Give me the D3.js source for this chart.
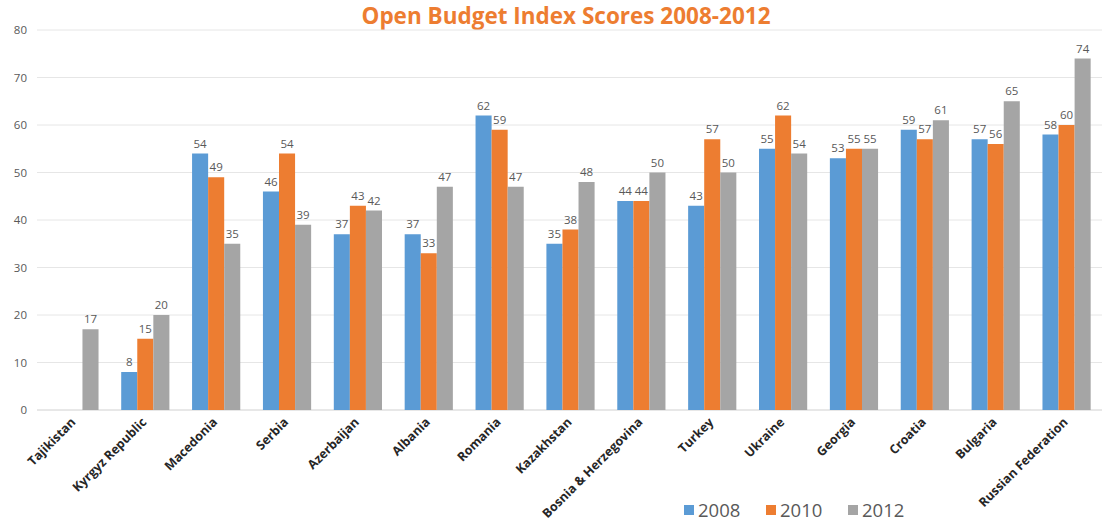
<!DOCTYPE html>
<html>
<head>
<meta charset="utf-8">
<script src="https://cdn.jsdelivr.net/npm/d3@7"></script>
<style>
  body { margin: 0; background: #fff; }
  text { font-family: "Open Sans", "Liberation Sans", sans-serif; }
</style>
</head>
<body>
<svg id="chart" width="1104" height="523"></svg>
<script>
let countries = ['Tajikistan', 'Kyrgyz Republic', 'Macedonia', 'Serbia', 'Azerbaijan', 'Albania',
    'Romania', 'Kazakhstan', 'Bosnia & Herzegovina', 'Turkey', 'Ukraine', 'Georgia',
    'Croatia', 'Bulgaria', 'Russian Federation'];
let years = ['2008', '2010', '2012'];
let scores2008 = [null, 8, 54, 46, 37, 37, 62, 35, 44, 43, 55, 53, 59, 57, 58];
let scores2010 = [null, 15, 49, 54, 43, 33, 59, 38, 44, 57, 62, 55, 57, 56, 60];
let scores2012 = [17, 20, 35, 39, 42, 47, 47, 48, 50, 50, 54, 55, 61, 65, 74];
let yTicks = [0, 10, 20, 30, 40, 50, 60, 70, 80];

let series = [scores2008, scores2010, scores2012];
let colors = ['#5b9bd5', '#ed7d31', '#a5a5a5'];

let svg = d3.select('#chart');

// scales
let xScale = d3.scaleBand()
    .domain(countries)
    .range([39, 1102])
    .paddingInner(0.32)
    .paddingOuter(0.16);
let xInner = d3.scaleBand()
    .domain(years)
    .range([0, xScale.bandwidth()]);
let yScale = d3.scaleLinear()
    .domain([0, 80])
    .range([410, 30]);

// title
svg.append('text')
    .attr('x', 566).attr('y', 24)
    .attr('text-anchor', 'middle')
    .attr('font-size', 22.5)
    .attr('font-weight', 'bold')
    .attr('fill', '#ed7d31')
    .text('Open Budget Index Scores 2008-2012');

// gridlines
svg.append('g')
    .selectAll('line')
    .data(yTicks)
    .enter().append('line')
    .attr('x1', 37).attr('x2', 1102)
    .attr('y1', d => yScale(d)).attr('y2', d => yScale(d))
    .attr('stroke', d => d === 0 ? '#d0d0d0' : '#e6e6e6')
    .attr('stroke-width', 1);

// y axis labels
let yAxis = d3.axisLeft(yScale).tickValues(yTicks).tickSize(0).tickPadding(10);
let yG = svg.append('g')
    .attr('transform', 'translate(37,0)')
    .call(yAxis);
yG.select('.domain').remove();
yG.selectAll('text')
    .attr('font-size', 11.5)
    .attr('fill', '#595959');

// bars
let groups = svg.append('g')
    .selectAll('g')
    .data(countries)
    .enter().append('g')
    .attr('transform', d => 'translate(' + xScale(d) + ',0)');

groups.each(function(country, ci) {
    let g = d3.select(this);
    let vals = years.map((y, si) => ({year: y, value: series[si][ci], color: colors[si]}))
        .filter(d => d.value !== null);
    g.selectAll('rect')
        .data(vals)
        .enter().append('rect')
        .attr('x', d => xInner(d.year))
        .attr('width', xInner.bandwidth())
        .attr('y', d => yScale(d.value))
        .attr('height', d => yScale(0) - yScale(d.value))
        .attr('fill', d => d.color);
    g.selectAll('text.val')
        .data(vals)
        .enter().append('text')
        .attr('class', 'val')
        .attr('x', d => xInner(d.year) + xInner.bandwidth() / 2)
        .attr('y', d => yScale(d.value) - 6)
        .attr('text-anchor', 'middle')
        .attr('font-size', 11.5)
        .attr('fill', '#595959')
        .text(d => d.value);
});

// x axis labels, rotated
let xAxis = d3.axisBottom(xScale).tickSize(0).tickPadding(0);
let xG = svg.append('g')
    .attr('transform', 'translate(0,410)')
    .call(xAxis);
xG.select('.domain').remove();
xG.selectAll('text')
    .attr('font-size', 12.5)
    .attr('font-weight', 'bold')
    .attr('fill', '#262626')
    .attr('text-anchor', 'end')
    .attr('dy', null)
    .attr('transform', 'translate(2,13) rotate(-45)');

// legend
let legend = svg.append('g')
    .selectAll('g')
    .data(years)
    .enter().append('g')
    .attr('transform', (d, i) => 'translate(' + (684 + i * 82) + ',517)');
legend.append('rect')
    .attr('x', 0).attr('y', -12)
    .attr('width', 10).attr('height', 10)
    .attr('fill', (d, i) => colors[i]);
legend.append('text')
    .attr('x', 14).attr('y', 0)
    .attr('font-size', 18.5)
    .attr('fill', '#595959')
    .text(d => d);
</script>
</body>
</html>
